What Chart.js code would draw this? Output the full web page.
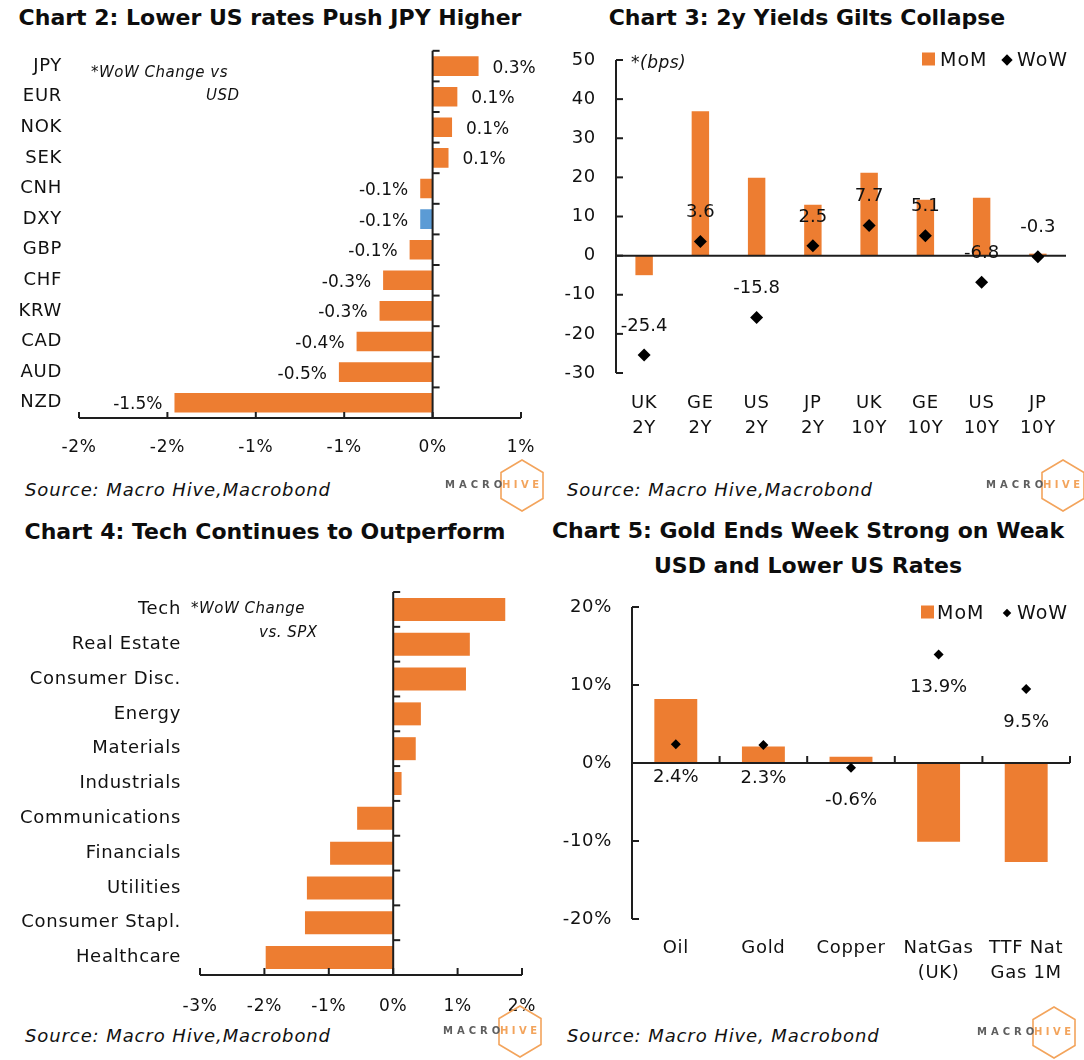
<!DOCTYPE html>
<html><head><meta charset="utf-8">
<script src="https://cdn.jsdelivr.net/npm/chart.js@4.4.1/dist/chart.umd.min.js"></script>
<style>
body{margin:0;width:1084px;height:1060px;background:#fff;position:relative;overflow:hidden;font-family:"DejaVu Sans",sans-serif;color:#111}
canvas{position:absolute}
.t{position:absolute;font-weight:bold;font-size:22px;text-align:center;white-space:nowrap;transform:translate(-50%,-50%);line-height:35px;color:#0d0d0d}
.src{position:absolute;font-style:italic;font-size:18px;letter-spacing:0.9px;white-space:nowrap;transform:translateY(-50%)}
.note{position:absolute;font-style:italic;font-size:15px;letter-spacing:0.5px;white-space:nowrap;transform:translateY(-50%)}
.leg{position:absolute;font-size:19px;letter-spacing:1px;white-space:nowrap;transform:translateY(-50%)}
.sq{position:absolute;width:13px;height:13px;background:#ED7D31;transform:translateY(-50%)}
.dm{position:absolute;background:#000;transform:translate(-50%,-50%) rotate(45deg)}
.logo{position:absolute;width:100px;height:54px}
.logo svg{position:absolute;left:54px;top:0}
.logo .m{position:absolute;left:0;top:21px;font-weight:bold;font-size:10px;letter-spacing:4px;color:#5e5e5e}
.logo .h{position:absolute;left:57px;top:21px;font-weight:bold;font-size:10px;letter-spacing:3.5px;color:#F3A45C}
</style></head>
<body>
<div class="t" style="left:270px;top:17px">Chart 2: Lower US rates Push JPY Higher</div>
<div class="t" style="left:807px;top:17px">Chart 3: 2y Yields Gilts Collapse</div>
<div class="t" style="left:265px;top:531px">Chart 4: Tech Continues to Outperform</div>
<div class="t" style="left:808px;top:548px">Chart 5: Gold Ends Week Strong on Weak<br>USD and Lower US Rates</div>

<canvas id="c2" width="540" height="430" style="left:0;top:40px"></canvas>
<canvas id="c3" width="544" height="430" style="left:540px;top:40px"></canvas>
<canvas id="c4" width="540" height="440" style="left:0;top:580px"></canvas>
<canvas id="c5" width="544" height="440" style="left:540px;top:580px"></canvas>

<div class="note" style="left:91px;top:72px">*WoW Change vs</div>
<div class="note" style="left:206px;top:95px">USD</div>
<div class="note" style="left:631px;top:62px;font-size:17px">*(bps)</div>
<div class="note" style="left:191px;top:608px">*WoW Change</div>
<div class="note" style="left:259px;top:632px">vs. SPX</div>

<div class="sq" style="left:922px;top:59px"></div><div class="leg" style="left:940px;top:59px">MoM</div>
<div class="dm" style="left:1007px;top:60px;width:8px;height:8px"></div><div class="leg" style="left:1017px;top:59px">WoW</div>
<div class="sq" style="left:921px;top:612px"></div><div class="leg" style="left:937px;top:612px">MoM</div>
<div class="dm" style="left:1007px;top:613px;width:6px;height:6px"></div><div class="leg" style="left:1017px;top:612px">WoW</div>

<div class="src" style="left:25px;top:489px">Source: Macro Hive,Macrobond</div>
<div class="src" style="left:567px;top:489px">Source: Macro Hive,Macrobond</div>
<div class="src" style="left:25px;top:1035px">Source: Macro Hive,Macrobond</div>
<div class="src" style="left:567px;top:1035px">Source: Macro Hive, Macrobond</div>

<div id="logos"></div>

<script>
// ---------- DATA ----------
const fxCats = ['JPY','EUR','NOK','SEK','CNH','DXY','GBP','CHF','KRW','CAD','AUD','NZD'];
const fxWoW = [0.26,0.14,0.11,0.09,-0.07,-0.07,-0.13,-0.28,-0.30,-0.43,-0.53,-1.46];
const fxHighlight = 'DXY';
const fxTicks = ['-2%','-2%','-1%','-1%','0%','1%'];

const yldCats = [['UK','2Y'],['GE','2Y'],['US','2Y'],['JP','2Y'],['UK','10Y'],['GE','10Y'],['US','10Y'],['JP','10Y']];
const yldMoM = [-5.0,36.9,19.9,13.0,21.2,14.3,14.8,0.5];
const yldWoW = [-25.4,3.6,-15.8,2.5,7.7,5.1,-6.8,-0.3];

const secCats = ['Tech','Real Estate','Consumer Disc.','Energy','Materials','Industrials','Communications','Financials','Utilities','Consumer Stapl.','Healthcare'];
const secWoW = [1.74,1.19,1.13,0.43,0.35,0.13,-0.56,-0.98,-1.34,-1.37,-1.98];

const cmdCats = ['Oil','Gold','Copper',['NatGas','(UK)'],['TTF Nat','Gas 1M']];
const cmdMoM = [8.2,2.1,0.8,-10.1,-12.7];
const cmdWoW = [2.4,2.3,-0.6,13.9,9.5];

// ---------- STYLE ----------
const ORANGE = '#ED7D31', BLUE = '#5B9BD5', AX = '#1e1e1e';
const FONT = '"DejaVu Sans", sans-serif';
Chart.defaults.font.family = FONT;
Chart.defaults.color = '#111';

function ln(ctx,x1,y1,x2,y2){ctx.beginPath();ctx.moveTo(x1,y1);ctx.lineTo(x2,y2);ctx.stroke();}
function catBounds(s,n){
  const h=(s.getPixelForValue(1)-s.getPixelForValue(0))/2, out=[];
  for(let i=0;i<=n;i++) out.push(i<n? s.getPixelForValue(i)-h : s.getPixelForValue(n-1)+h);
  return out;
}
// gap between axis and labels handled through (hidden) tick length, no tick padding
function g(len){return {display:false,drawTicks:true,tickLength:len};}
const spacing = {id:'spacing',
  beforeDraw(ch){ch.ctx.letterSpacing='0.7px';},
  beforeDatasetsDraw(ch){ch.ctx.letterSpacing='0px';}};
const base = {responsive:false,animation:false,devicePixelRatio:1,
  plugins:{legend:{display:false},tooltip:{enabled:false}}};

// ---------- Chart 2 ----------
new Chart(document.getElementById('c2'),{
  type:'bar',
  data:{labels:fxCats,datasets:[{data:fxWoW,backgroundColor:fxCats.map(c=>c===fxHighlight?BLUE:ORANGE),barPercentage:0.64,categoryPercentage:1}]},
  options:{...base,indexAxis:'y',
    layout:{padding:{left:0,right:19,top:6,bottom:0}},
    scales:{
      x:{min:-2,max:0.5,ticks:{stepSize:0.5,padding:0,font:{size:17},callback:(v,i)=>fxTicks[i]},grid:g(19.8),border:{display:false},afterFit:s=>{s.height=52;}},
      y:{ticks:{padding:0,font:{size:18}},grid:g(17),border:{display:false},afterFit:s=>{s.width=79;}}
    }},
  plugins:[spacing,{id:'ax2',afterDatasetsDraw(ch){
    const c=ch.ctx,xs=ch.scales.x,ys=ch.scales.y,a=ch.chartArea;
    c.save();c.strokeStyle=AX;c.lineWidth=2;
    ln(c,a.left,a.bottom,a.right,a.bottom);
    xs.ticks.forEach((t,i)=>{const p=xs.getPixelForTick(i);ln(c,p,a.bottom,p,a.bottom-6);});
    const zx=xs.getPixelForValue(0);
    ln(c,zx,a.top,zx,a.bottom);
    catBounds(ys,fxCats.length).forEach(b=>ln(c,zx,b,zx+7,b));
    c.fillStyle='#111';c.font='17px '+FONT;c.textBaseline='middle';
    ch.getDatasetMeta(0).data.forEach((el,i)=>{
      const v=fxWoW[i],txt=v.toFixed(1)+'%';
      if(v>=0){c.textAlign='left';c.fillText(txt,el.x+14,el.y+2);}else{c.textAlign='right';c.fillText(txt,el.x-12,el.y+2);}
    });
    c.restore();}}]
});

// ---------- Chart 3 ----------
new Chart(document.getElementById('c3'),{
  type:'bar',
  data:{labels:yldCats,datasets:[
    {type:'bar',data:yldMoM,backgroundColor:ORANGE,barPercentage:0.31,categoryPercentage:1,order:1},
    {type:'line',data:yldWoW,showLine:false,pointStyle:'rectRot',pointRadius:6.5,backgroundColor:'#000',borderColor:'#000',borderWidth:0,order:0}
  ]},
  options:{...base,
    layout:{padding:{left:0,right:18,top:20,bottom:0}},
    scales:{
      x:{ticks:{padding:0,font:{size:18,lineHeight:1.4}},grid:g(17.4),border:{display:false},afterFit:s=>{s.height=97;}},
      y:{min:-30,max:50,ticks:{stepSize:10,padding:0,font:{size:18}},grid:g(20),border:{display:false},afterFit:s=>{s.width=76;}}
    }},
  plugins:[spacing,{id:'ax3',beforeDatasetDraw(ch,args){
    if(args.index!==1)return;
    const c=ch.ctx,ys=ch.scales.y,a=ch.chartArea;
    c.save();c.strokeStyle=AX;c.lineWidth=2;
    ln(c,a.left,a.top,a.left,a.bottom);
    ys.ticks.forEach((t,i)=>{const p=ys.getPixelForTick(i);ln(c,a.left,p,a.left+7,p);});
    const zy=ys.getPixelForValue(0);ln(c,a.left,zy,a.right,zy);
    c.restore();},
   afterDatasetsDraw(ch){
    const c=ch.ctx;c.save();c.fillStyle='#111';c.font='18px '+FONT;c.textAlign='center';c.textBaseline='middle';
    ch.getDatasetMeta(1).data.forEach((el,i)=>c.fillText(yldWoW[i].toFixed(1),el.x,el.y-29));
    c.restore();}}]
});

// ---------- Chart 4 ----------
new Chart(document.getElementById('c4'),{
  type:'bar',
  data:{labels:secCats,datasets:[{data:secWoW,backgroundColor:ORANGE,barPercentage:0.66,categoryPercentage:1}]},
  options:{...base,indexAxis:'y',
    layout:{padding:{left:0,right:18,top:12,bottom:0}},
    scales:{
      x:{min:-3,max:2,ticks:{stepSize:1,padding:0,font:{size:17},callback:v=>v+'%'},grid:g(21.8),border:{display:false},afterFit:s=>{s.height=45;}},
      y:{ticks:{padding:0,font:{size:18}},grid:g(19),border:{display:false},afterFit:s=>{s.width=200;}}
    }},
  plugins:[spacing,{id:'ax4',afterDatasetsDraw(ch){
    const c=ch.ctx,xs=ch.scales.x,ys=ch.scales.y,a=ch.chartArea;
    c.save();c.strokeStyle=AX;c.lineWidth=2;
    ln(c,a.left,a.bottom,a.right,a.bottom);
    xs.ticks.forEach((t,i)=>{const p=xs.getPixelForTick(i);ln(c,p,a.bottom,p,a.bottom-7);});
    const zx=xs.getPixelForValue(0);
    ln(c,zx,a.top,zx,a.bottom);
    catBounds(ys,secCats.length).forEach(b=>ln(c,zx,b,zx+7,b));
    c.restore();}}]
});

// ---------- Chart 5 ----------
new Chart(document.getElementById('c5'),{
  type:'bar',
  data:{labels:cmdCats,datasets:[
    {type:'bar',data:cmdMoM,backgroundColor:ORANGE,barPercentage:0.49,categoryPercentage:1,order:1},
    {type:'line',data:cmdWoW,showLine:false,pointStyle:'rectRot',pointRadius:5,backgroundColor:'#000',borderColor:'#000',borderWidth:0,order:0}
  ]},
  options:{...base,
    layout:{padding:{left:0,right:14,top:27,bottom:0}},
    scales:{
      x:{ticks:{padding:0,font:{size:18,lineHeight:1.39}},grid:g(16.5),border:{display:false},afterFit:s=>{s.height=101;}},
      y:{min:-20,max:20,ticks:{stepSize:10,padding:0,font:{size:18},callback:v=>v+'%'},grid:g(20),border:{display:false},afterFit:s=>{s.width=92;}}
    }},
  plugins:[spacing,{id:'ax5',beforeDatasetDraw(ch,args){
    if(args.index!==1)return;
    const c=ch.ctx,xs=ch.scales.x,ys=ch.scales.y,a=ch.chartArea;
    c.save();c.strokeStyle=AX;c.lineWidth=2;
    ln(c,a.left,a.top,a.left,a.bottom);
    ys.ticks.forEach((t,i)=>{const p=ys.getPixelForTick(i);ln(c,a.left,p,a.left+7,p);});
    const zy=ys.getPixelForValue(0);ln(c,a.left,zy,a.right,zy);
    catBounds(xs,cmdCats.length).forEach(b=>ln(c,b,zy,b,zy-7));
    c.restore();},
   afterDatasetsDraw(ch){
    const c=ch.ctx;c.save();c.fillStyle='#111';c.font='18px '+FONT;c.textAlign='center';c.textBaseline='middle';
    ch.getDatasetMeta(1).data.forEach((el,i)=>c.fillText(cmdWoW[i].toFixed(1)+'%',el.x,el.y+33));
    c.restore();}}]
});

// ---------- Logos ----------
const logoPos = [[445,458],[986,458],[443,1004],[977,1005]];
const hex = '<svg width="46" height="56" viewBox="0 0 46 56"><polygon points="23,2 44,14.5 44,40.5 23,53 2,40.5 2,14.5" fill="none" stroke="#F3A45C" stroke-width="1.6"/></svg>';
document.getElementById('logos').innerHTML = logoPos.map(p=>
  `<div class="logo" style="left:${p[0]}px;top:${p[1]}px">${hex}<span class="m">MACRO</span><span class="h">HIVE</span></div>`).join('');
</script>
</body></html>
